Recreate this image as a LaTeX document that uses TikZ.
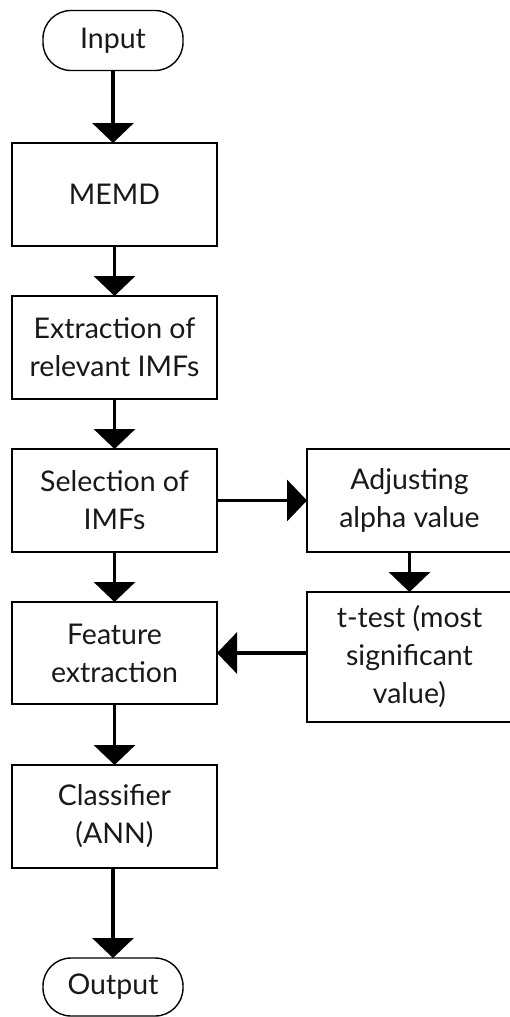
\documentclass[tikz,border=0pt]{standalone}
\usepackage{fontspec}
\setmainfont{Lato}[Ligatures={Common,Rare}]
\usetikzlibrary{arrows.meta}
% break the s-t ligature where it is not wanted
\newcommand{\nolig}{\kern0pt{}}
\begin{document}
\begin{tikzpicture}[x=1pt,y=-1pt,
  every node/.style={font=\fontsize{28.5}{38}\selectfont, text=black!90, align=center, outer sep=0pt, inner sep=0pt},
  procbox/.style={draw, line width=1.6pt, minimum width=205pt, minimum height=103pt},
  termbox/.style={draw, line width=1.4pt, rounded corners=28pt, minimum width=140pt, minimum height=60pt},
  flow/.style={line width=3.6pt, -{Triangle[width=41pt,length=20pt]}}
]
\useasboundingbox (0,0) rectangle (510,1017);
\node[termbox] (in) at (113,40.5) {Input};
\node[procbox] (memd) at (114.5,194.5) {MEMD};
\node[procbox] (ext) at (114.5,347.5) {Extraction of\\relevant IMFs};
\node[procbox] (sel) at (114.5,500.5) {Selection of\\IMFs};
\node[procbox] (adj) at (409.5,500.5) {Adjus\nolig ting\\alpha value};
\node[procbox, minimum height=130pt] (tt) at (409.5,657) {t-tes\nolig t (mos\nolig t\\significant\\value)};
\node[procbox, minimum height=102pt] (feat) at (114.5,653) {Feature\\extraction};
\node[procbox] (cls) at (114.5,816.5) {Classifier\\(ANN)};
\node[termbox, minimum height=58pt] (out) at (113,987) {Output};

\draw[flow] (in.south) -- (memd.north -| in.south);
\draw[flow] (memd) -- (ext);
\draw[flow] (ext) -- (sel);
\draw[flow] (sel) -- (adj);
\draw[flow] (adj) -- (tt);
\draw[flow] (sel) -- (feat);
\draw[flow] (tt.west |- feat.east) -- (feat.east);
\draw[flow] (cls.south -| out.north) -- (out.north);
\draw[flow] (feat) -- (cls);
\end{tikzpicture}
\end{document}
